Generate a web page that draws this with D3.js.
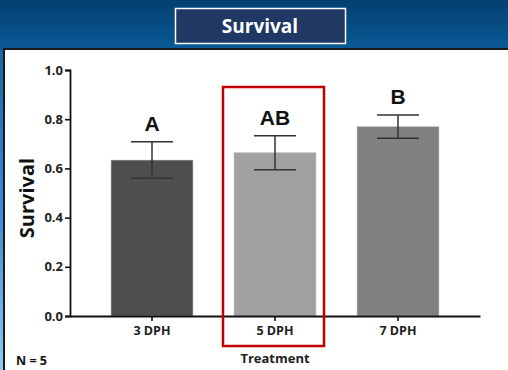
<!DOCTYPE html>
<html lang="en">
<head>
  <meta charset="UTF-8">
  <title>Survival</title>
  <style>
    html, body { margin: 0; padding: 0; overflow: hidden; }
    svg { display: block; }
  </style>
  <script src="https://d3js.org/d3.v7.min.js"></script>
</head>
<body>
  <div id="chart"></div>

  <script>
    // Data
    var categories = ["3 DPH", "5 DPH", "7 DPH"];
    var means = [0.634, 0.664, 0.770];
    var errors = [0.074, 0.069, 0.047];
    var letters = ["A", "AB", "B"];
    var barColors = ["#4e4e4e", "#a1a1a4", "#808080"];
    var yTicks = [0.0, 0.2, 0.4, 0.6, 0.8, 1.0];
    var highlighted = "5 DPH";

    var W = 508, H = 370;

    var svg = d3.select("#chart").append("svg")
      .attr("width", W)
      .attr("height", H);

    var defs = svg.append("defs");

    // background gradients
    var gTop = defs.append("linearGradient").attr("id", "gTop")
      .attr("x1", 0).attr("y1", 0).attr("x2", 0).attr("y2", 1);
    gTop.append("stop").attr("offset", "0%").attr("stop-color", "#03406f");
    gTop.append("stop").attr("offset", "100%").attr("stop-color", "#0a5a98");

    var gLeft = defs.append("linearGradient").attr("id", "gLeft")
      .attr("x1", 0).attr("y1", 0).attr("x2", 0).attr("y2", 1);
    gLeft.append("stop").attr("offset", "0%").attr("stop-color", "#0a5a9c");
    gLeft.append("stop").attr("offset", "60%").attr("stop-color", "#3d8fd6");
    gLeft.append("stop").attr("offset", "100%").attr("stop-color", "#93c8f2");

    svg.append("rect").attr("width", W).attr("height", H).attr("fill", "url(#gLeft)");
    svg.append("rect").attr("width", W).attr("height", 50).attr("fill", "url(#gTop)");

    // white panel with dark border on top/left
    svg.append("rect")
      .attr("x", 4).attr("y", 49)
      .attr("width", W).attr("height", H)
      .attr("fill", "#fff")
      .attr("stroke", "#1a1a1a")
      .attr("stroke-width", 2);

    // title box
    svg.append("rect")
      .attr("x", 175.5).attr("y", 8.5)
      .attr("width", 170).attr("height", 35)
      .attr("fill", "#1f3864")
      .attr("stroke", "#fff")
      .attr("stroke-width", 1.5);
    svg.append("text")
      .attr("x", 260).attr("y", 33)
      .attr("text-anchor", "middle")
      .attr("fill", "#fff")
      .style("font", "bold 19px 'Open Sans', sans-serif")
      .text("Survival");

    // scales
    var x = d3.scaleBand()
      .domain(categories)
      .range([70, 480])
      .paddingInner(1 / 3)
      .paddingOuter(1 / 3);

    var y = d3.scaleLinear()
      .domain([0, 1])
      .range([316, 70]);

    var data = categories.map(function(c, i) {
      return { cat: c, mean: means[i], err: errors[i], letter: letters[i], color: barColors[i] };
    });

    // bars
    svg.append("g").selectAll("rect")
      .data(data)
      .enter().append("rect")
      .attr("x", function(d) { return x(d.cat); })
      .attr("y", function(d) { return y(d.mean); })
      .attr("width", x.bandwidth())
      .attr("height", function(d) { return y(0) - y(d.mean); })
      .attr("fill", function(d) { return d.color; })
      .attr("stroke", "#c8c8c8")
      .attr("stroke-width", 0.6);

    // error bars
    var eb = svg.append("g")
      .attr("stroke", "#333")
      .attr("stroke-width", 1.5)
      .selectAll("g")
      .data(data)
      .enter().append("g")
      .attr("transform", function(d) { return "translate(" + (x(d.cat) + x.bandwidth() / 2) + ",0)"; });
    eb.append("line")
      .attr("y1", function(d) { return y(d.mean - d.err); })
      .attr("y2", function(d) { return y(d.mean + d.err); });
    eb.append("line")
      .attr("x1", -21).attr("x2", 21)
      .attr("y1", function(d) { return y(d.mean + d.err); })
      .attr("y2", function(d) { return y(d.mean + d.err); });
    eb.append("line")
      .attr("x1", -21).attr("x2", 21)
      .attr("y1", function(d) { return y(d.mean - d.err); })
      .attr("y2", function(d) { return y(d.mean - d.err); });

    // significance letters
    svg.append("g").selectAll("text")
      .data(data)
      .enter().append("text")
      .attr("x", function(d) { return x(d.cat) + x.bandwidth() / 2; })
      .attr("y", function(d) { return y(d.mean + d.err) - 11; })
      .attr("text-anchor", "middle")
      .attr("fill", "#111")
      .style("font", "bold 21px 'Liberation Sans', Arial, sans-serif")
      .text(function(d) { return d.letter; });

    // y axis
    var yAxis = svg.append("g")
      .attr("transform", "translate(70,0)")
      .call(d3.axisLeft(y).tickValues(yTicks).tickFormat(d3.format(".1f")).tickSize(5).tickPadding(2));
    yAxis.select(".domain").attr("stroke", "#111").attr("stroke-width", 1.8);
    yAxis.selectAll(".tick line").attr("stroke", "#111").attr("stroke-width", 1.6);
    yAxis.selectAll("text")
      .attr("fill", "#222")
      .style("font", "bold 13px 'Open Sans', sans-serif");

    // x axis
    var xAxis = svg.append("g")
      .attr("transform", "translate(0,316)")
      .call(d3.axisBottom(x).tickSize(5).tickSizeOuter(0).tickPadding(5));
    xAxis.select(".domain").attr("stroke", "#111").attr("stroke-width", 1.8);
    xAxis.selectAll(".tick line").attr("stroke", "#111").attr("stroke-width", 1.6);
    xAxis.selectAll("text")
      .attr("fill", "#222")
      .style("font", "bold 12.5px 'Open Sans', sans-serif");

    // axis titles
    svg.append("text")
      .attr("transform", "translate(34,198) rotate(-90)")
      .attr("text-anchor", "middle")
      .attr("fill", "#111")
      .style("font", "bold 20px 'Open Sans', sans-serif")
      .text("Survival");

    svg.append("text")
      .attr("x", 275).attr("y", 363)
      .attr("text-anchor", "middle")
      .attr("fill", "#222")
      .style("font", "bold 13px 'Open Sans', sans-serif")
      .text("Treatment");

    svg.append("text")
      .attr("x", 16).attr("y", 365)
      .attr("fill", "#111")
      .style("font", "bold 12.5px 'Open Sans', sans-serif")
      .text("N = 5");

    // highlight box around the 5 DPH group
    var hx = x(highlighted);
    svg.append("rect")
      .attr("x", hx - 11).attr("y", 87)
      .attr("width", x.bandwidth() + 19)
      .attr("height", 259)
      .attr("fill", "none")
      .attr("stroke", "#c00000")
      .attr("stroke-width", 2.5);
  </script>
</body>
</html>
